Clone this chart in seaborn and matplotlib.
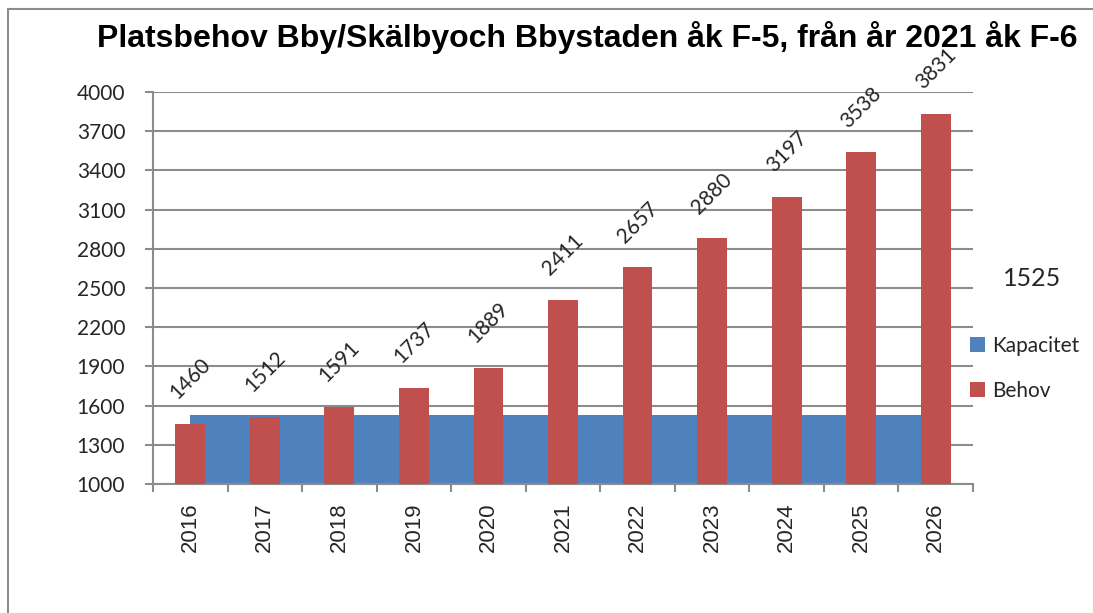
import numpy as np
import matplotlib
matplotlib.use("Agg")
import matplotlib.pyplot as plt
import seaborn as sns
from matplotlib.patches import Rectangle

# data
years = ["2016", "2017", "2018", "2019", "2020", "2021",
         "2022", "2023", "2024", "2025", "2026"]
kapacitet = [1525] * 11
behov = [1460, 1512, 1591, 1737, 1889, 2411, 2657, 2880, 3197, 3538, 3831]

blue = "#4F81BD"
red = "#C0504D"
grey = "#8C8C8C"

W, H = 1093, 613

sns.set_style("white")
plt.rcParams['font.family'] = ['Lato', 'DejaVu Sans']

fig = plt.figure(figsize=(W / 100, H / 100), dpi=100)
ax = fig.add_axes([153 / W, 1 - 484 / H, 820 / W, 392 / H])

# capacity bars, shifted half a slot so they form one band (as in the Excel original)
sns.barplot(x=years, y=kapacitet, color=blue, width=1.0, saturation=1,
            linewidth=0, ax=ax, label="Kapacitet", zorder=2)
for i, p in enumerate(ax.patches):
    p.set_x(p.get_x() + 0.5)
    if i == len(years) - 1:
        p.set_width(0.15)

sns.barplot(x=years, y=behov, color=red, width=0.4, saturation=1,
            linewidth=0, ax=ax, label="Behov", zorder=3)

# rotated data labels above the red bars
for i, v in enumerate(behov):
    ax.annotate(str(v), (i, v), xytext=(0, 15), textcoords="offset points",
                rotation=45, ha="center", va="bottom", fontsize=15,
                family=['Lato', 'DejaVu Sans'], zorder=5)

ax.set_ylim(1000, 4000)
ax.set_yticks(range(1000, 4001, 300))
ax.set_xlim(-0.5, len(years) - 0.5)
ax.set_xticks(np.arange(-0.5, len(years), 1), minor=True)

ax.yaxis.grid(True, color=grey, lw=1.5)
ax.set_axisbelow(True)
for s in ["top", "right"]:
    ax.spines[s].set_visible(False)
for s in ["left", "bottom"]:
    ax.spines[s].set_color(grey)
    ax.spines[s].set_linewidth(1.5)

ax.tick_params(axis="y", direction="out", length=6, width=1.5, color=grey,
               pad=14, labelsize=15, left=True)
ax.tick_params(axis="x", which="major", length=0, pad=13)
ax.tick_params(axis="x", which="minor", direction="out", length=6, width=1.5,
               color=grey, bottom=True)
for lab in ax.get_xticklabels():
    lab.set_rotation(90)
    lab.set_family(['Liberation Sans', 'DejaVu Sans'])
    lab.set_fontsize(16)
ax.set_xlabel("")
ax.set_ylabel("")

fig.text(587 / W, 1 - 38 / H,
         "Platsbehov Bby/Skälbyoch Bbystaden åk F-5, från år 2021 åk F-6",
         ha="center", va="center", fontsize=23, fontweight="bold",
         color="black", family=['Liberation Sans', 'DejaVu Sans'])

# stray data label of the capacity series
fig.text(1032 / W, 1 - 278 / H, "1525", ha="center", va="center", fontsize=18)

ax.legend(loc="upper left", bbox_to_anchor=(970 / W, 1 - 336 / H),
          bbox_transform=fig.transFigure, frameon=False, fontsize=15,
          handlelength=0.7, handleheight=0.7, handletextpad=0.35,
          labelspacing=1.2, borderpad=0, borderaxespad=0)

# outer chart frame
fig.patches.append(Rectangle((8 / W, -0.1), 2, 1 - 9 / H + 0.1,
                             transform=fig.transFigure, fill=False,
                             edgecolor=grey, lw=1.5))

fig.savefig("out.png", dpi=100)
